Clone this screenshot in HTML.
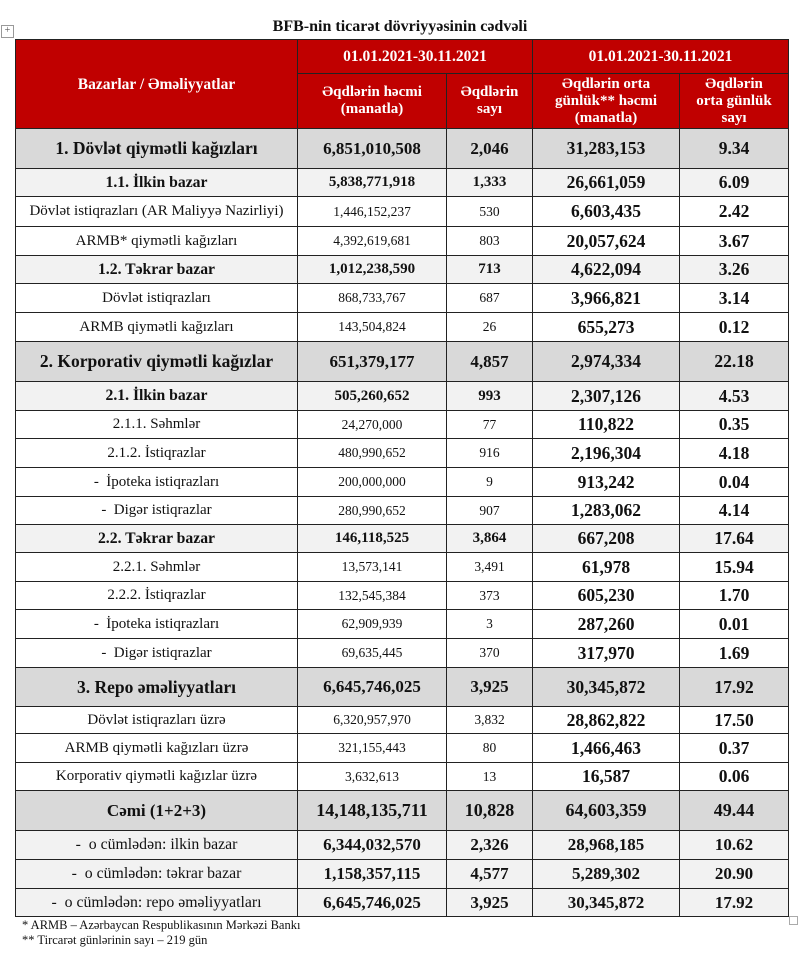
<!DOCTYPE html>
<html><head><meta charset="utf-8"><style>
body{margin:0;width:800px;height:959px;background:#fff;position:relative;font-family:"Liberation Serif",serif;color:#111;overflow:hidden}
.title{position:absolute;left:0;width:800px;top:18px;text-align:center;font-weight:bold;font-size:16px}
.move{position:absolute;left:1px;top:25px;width:11px;height:11px;border:1px solid #999;font-size:10px;line-height:10px;text-align:center;color:#555}
table{position:absolute;left:15px;top:39px;border-collapse:collapse;table-layout:fixed;width:773px;border:1.5px solid #222}
td{border:1px solid #222;text-align:center;padding:0;font-size:13.5px;white-space:nowrap;overflow:hidden}
td:first-child{font-size:15px}
.h td{background:#c00000;color:#fff;font-weight:bold;font-size:15.5px;line-height:17px}
.h2 td{font-size:15px;line-height:17px}
.g1 td{background:#d9d9d9;font-weight:bold;font-size:17px}
.g1 td:first-child{font-size:17.5px}
.g2 td{background:#f2f2f2;font-weight:bold;font-size:15px}
.g2 td:first-child{font-size:15.7px}
td:nth-child(4),td:nth-child(5){font-weight:bold;font-size:17.5px}
.h td:nth-child(4),.h td:nth-child(5){font-size:15px}
.h td.c{font-size:15.5px}
.t td{background:#d9d9d9;font-weight:bold;font-size:18px}
.t td:first-child{font-size:17px}
.o td{background:#f2f2f2;font-weight:bold;font-size:17px}
.o td:first-child{font-weight:normal;font-size:15.8px}
.fn{position:absolute;left:22px;font-size:12.5px;font-family:"Liberation Serif",serif}
.sq{position:absolute;left:789px;top:916px;width:7px;height:7px;border:1px solid #aaa}
</style></head><body>
<div class="title">BFB-nin ticarət dövriyyəsinin cədvəli</div>
<div class="move">+</div>
<table>
<colgroup><col style="width:282px"><col style="width:149px"><col style="width:86px"><col style="width:147px"><col style="width:109px"></colgroup>
<tr class="h" style="height:34px"><td rowspan="2">Bazarlar / Əməliyyatlar</td><td colspan="2">01.01.2021-30.11.2021</td><td colspan="2" class="c" style="font-size:15.5px">01.01.2021-30.11.2021</td></tr>
<tr class="h h2" style="height:55px"><td>Əqdlərin həcmi<br>(manatla)</td><td>Əqdlərin<br>sayı</td><td>Əqdlərin orta<br>günlük** həcmi<br>(manatla)</td><td>Əqdlərin<br>orta günlük<br>sayı</td></tr>
<tr class="g1" style="height:40px"><td>1. Dövlət qiymətli kağızları</td><td>6,851,010,508</td><td>2,046</td><td>31,283,153</td><td>9.34</td></tr>
<tr class="g2" style="height:28px"><td>1.1. İlkin bazar</td><td>5,838,771,918</td><td>1,333</td><td>26,661,059</td><td>6.09</td></tr>
<tr style="height:30px"><td>Dövlət istiqrazları (AR Maliyyə Nazirliyi)</td><td>1,446,152,237</td><td>530</td><td>6,603,435</td><td>2.42</td></tr>
<tr style="height:29px"><td>ARMB* qiymətli kağızları</td><td>4,392,619,681</td><td>803</td><td>20,057,624</td><td>3.67</td></tr>
<tr class="g2" style="height:28px"><td>1.2. Təkrar bazar</td><td>1,012,238,590</td><td>713</td><td>4,622,094</td><td>3.26</td></tr>
<tr style="height:29px"><td>Dövlət istiqrazları</td><td>868,733,767</td><td>687</td><td>3,966,821</td><td>3.14</td></tr>
<tr style="height:29px"><td>ARMB qiymətli kağızları</td><td>143,504,824</td><td>26</td><td>655,273</td><td>0.12</td></tr>
<tr class="g1" style="height:40px"><td>2. Korporativ qiymətli kağızlar</td><td>651,379,177</td><td>4,857</td><td>2,974,334</td><td>22.18</td></tr>
<tr class="g2" style="height:29px"><td>2.1. İlkin bazar</td><td>505,260,652</td><td>993</td><td>2,307,126</td><td>4.53</td></tr>
<tr style="height:28px"><td>2.1.1. Səhmlər</td><td>24,270,000</td><td>77</td><td>110,822</td><td>0.35</td></tr>
<tr style="height:29px"><td>2.1.2. İstiqrazlar</td><td>480,990,652</td><td>916</td><td>2,196,304</td><td>4.18</td></tr>
<tr style="height:29px"><td>-&nbsp; İpoteka istiqrazları</td><td>200,000,000</td><td>9</td><td>913,242</td><td>0.04</td></tr>
<tr style="height:28px"><td>-&nbsp; Digər istiqrazlar</td><td>280,990,652</td><td>907</td><td>1,283,062</td><td>4.14</td></tr>
<tr class="g2" style="height:28px"><td>2.2. Təkrar bazar</td><td>146,118,525</td><td>3,864</td><td>667,208</td><td>17.64</td></tr>
<tr style="height:29px"><td>2.2.1. Səhmlər</td><td>13,573,141</td><td>3,491</td><td>61,978</td><td>15.94</td></tr>
<tr style="height:28px"><td>2.2.2. İstiqrazlar</td><td>132,545,384</td><td>373</td><td>605,230</td><td>1.70</td></tr>
<tr style="height:29px"><td>-&nbsp; İpoteka istiqrazları</td><td>62,909,939</td><td>3</td><td>287,260</td><td>0.01</td></tr>
<tr style="height:29px"><td>-&nbsp; Digər istiqrazlar</td><td>69,635,445</td><td>370</td><td>317,970</td><td>1.69</td></tr>
<tr class="g1" style="height:39px"><td>3. Repo əməliyyatları</td><td>6,645,746,025</td><td>3,925</td><td>30,345,872</td><td>17.92</td></tr>
<tr style="height:27px"><td>Dövlət istiqrazları üzrə</td><td>6,320,957,970</td><td>3,832</td><td>28,862,822</td><td>17.50</td></tr>
<tr style="height:29px"><td>ARMB qiymətli kağızları üzrə</td><td>321,155,443</td><td>80</td><td>1,466,463</td><td>0.37</td></tr>
<tr style="height:28px"><td>Korporativ qiymətli kağızlar üzrə</td><td>3,632,613</td><td>13</td><td>16,587</td><td>0.06</td></tr>
<tr class="t" style="height:40px"><td>Cəmi (1+2+3)</td><td>14,148,135,711</td><td>10,828</td><td>64,603,359</td><td>49.44</td></tr>
<tr class="o" style="height:29px"><td>-&nbsp; o cümlədən: ilkin bazar</td><td>6,344,032,570</td><td>2,326</td><td>28,968,185</td><td>10.62</td></tr>
<tr class="o" style="height:29px"><td>-&nbsp; o cümlədən: təkrar bazar</td><td>1,158,357,115</td><td>4,577</td><td>5,289,302</td><td>20.90</td></tr>
<tr class="o" style="height:28px"><td>-&nbsp; o cümlədən: repo əməliyyatları</td><td>6,645,746,025</td><td>3,925</td><td>30,345,872</td><td>17.92</td></tr>
</table>
<div class="fn" style="top:918px">* ARMB – Azərbaycan Respublikasının Mərkəzi Bankı</div>
<div class="fn" style="top:933px">** Tircarət günlərinin sayı – 219 gün</div>
<div class="sq"></div>
</body></html>
